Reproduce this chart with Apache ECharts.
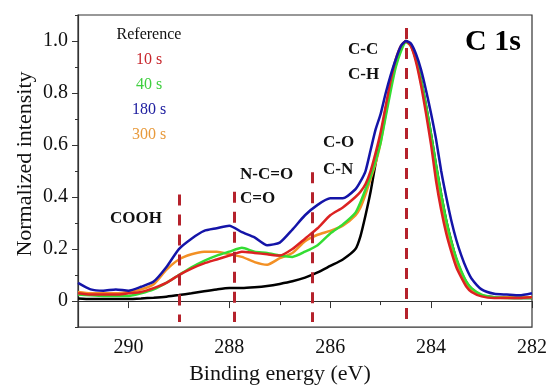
<!DOCTYPE html>
<html>
<head>
<meta charset="utf-8">
<script src="https://cdn.jsdelivr.net/npm/echarts@6/dist/echarts.min.js"></script>
<style>
  html, body { margin: 0; padding: 0; background: #fff; }
  #chart { width: 550px; height: 390px; }
</style>
</head>
<body>
<div id="chart"></div>
<script>
// binding energy grid (eV)
const energy = [291.0, 290.75, 290.5, 290.25, 290.0, 289.75, 289.5, 289.25, 289.0, 288.75,
  288.5, 288.25, 288.0, 287.75, 287.5, 287.25, 287.0, 286.75, 286.5, 286.25,
  286.0, 285.75, 285.5, 285.4, 285.3, 285.2, 285.1, 285.0, 284.9, 284.8,
  284.7, 284.6, 284.5, 284.4, 284.3, 284.2, 284.1, 284.0, 283.9, 283.8,
  283.7, 283.6, 283.5, 283.4, 283.3, 283.2, 283.0, 282.75, 282.5, 282.25, 282.0]

const reference = [0.01, 0.008, 0.008, 0.008, 0.008, 0.01, 0.013, 0.017, 0.023, 0.03,
  0.038, 0.045, 0.05, 0.05, 0.053, 0.058, 0.066, 0.076, 0.09, 0.11,
  0.135, 0.16, 0.2, 0.25, 0.33, 0.42, 0.53, 0.63, 0.74, 0.83,
  0.91, 0.97, 1.0, 0.985, 0.93, 0.85, 0.75, 0.64, 0.52, 0.41,
  0.31, 0.23, 0.16, 0.11, 0.072, 0.048, 0.022, 0.015, 0.013, 0.012, 0.012]

const s10 = [0.03, 0.025, 0.025, 0.025, 0.03, 0.035, 0.05, 0.07, 0.1, 0.125,
  0.145, 0.16, 0.175, 0.19, 0.185, 0.18, 0.175, 0.2, 0.24, 0.28,
  0.33, 0.36, 0.4, 0.42, 0.45, 0.5, 0.57, 0.65, 0.75, 0.85,
  0.93, 0.98, 1.0, 0.98, 0.92, 0.83, 0.72, 0.6, 0.46, 0.35,
  0.26, 0.19, 0.13, 0.09, 0.055, 0.035, 0.018, 0.012, 0.012, 0.012, 0.015]

const s40 = [0.025, 0.022, 0.02, 0.02, 0.02, 0.03, 0.045, 0.07, 0.1, 0.13,
  0.155, 0.175, 0.19, 0.205, 0.19, 0.185, 0.175, 0.17, 0.19, 0.215,
  0.26, 0.295, 0.34, 0.38, 0.43, 0.48, 0.54, 0.61, 0.71, 0.81,
  0.9, 0.96, 0.995, 0.985, 0.93, 0.85, 0.75, 0.64, 0.52, 0.41,
  0.31, 0.23, 0.165, 0.115, 0.075, 0.05, 0.025, 0.015, 0.012, 0.012, 0.012]

const s180 = [0.07, 0.045, 0.04, 0.045, 0.04, 0.055, 0.075, 0.13, 0.2, 0.24,
  0.27, 0.28, 0.29, 0.265, 0.245, 0.215, 0.225, 0.275, 0.33, 0.37,
  0.395, 0.395, 0.43, 0.46, 0.5, 0.58, 0.66, 0.72, 0.8, 0.87,
  0.93, 0.98, 1.0, 0.99, 0.95, 0.89, 0.81, 0.72, 0.62, 0.5,
  0.4, 0.31, 0.235, 0.175, 0.125, 0.087, 0.045, 0.028, 0.025, 0.022, 0.03]

const s300 = [0.035, 0.03, 0.03, 0.03, 0.035, 0.045, 0.065, 0.12, 0.16, 0.18,
  0.19, 0.19, 0.18, 0.17, 0.15, 0.14, 0.165, 0.185, 0.23, 0.255,
  0.27, 0.29, 0.33, 0.36, 0.41, 0.47, 0.53, 0.61, 0.72, 0.83,
  0.92, 0.975, 1.0, 0.98, 0.93, 0.84, 0.74, 0.62, 0.5, 0.39,
  0.29, 0.21, 0.15, 0.1, 0.065, 0.042, 0.022, 0.015, 0.015, 0.015, 0.015]

// peak assignment lines: energy, top of the dashed line
const peakEnergy = [289.0, 287.9, 286.35, 284.5]
const peakTop = [0.41, 0.42, 0.495, 1.05]

const names = ['Reference', '10 s', '40 s', '180 s', '300 s']
const colors = ['#000000', '#dc2222', '#33dd33', '#1414a8', '#f39024']
const labelColors = ['#111111', '#c8262c', '#3fcf3f', '#2020a0', '#e89a3c']

const serif = '"Liberation Serif", "Times New Roman", serif'

const chart = echarts.init(document.getElementById('chart'))

function line(name, values, color) {
  return {
    name: name,
    type: 'line',
    data: energy.map((e, i) => [e, values[i]]),
    showSymbol: false,
    smooth: 0.2,
    lineStyle: { color: color, width: 2.5 },
    itemStyle: { color: color },
    animation: false
  }
}

chart.setOption({
  grid: {
    left: 78, right: 18, top: 15, bottom: 57,
    show: true, borderColor: '#333', borderWidth: 1.2
  },
  legend: {
    orient: 'vertical',
    left: 99,
    top: 22,
    icon: 'none',
    itemWidth: 0,
    itemHeight: 10,
    itemGap: 9,
    selectedMode: false,
    formatter: '{c|{name}}',
    textStyle: {
      fontFamily: serif,
      fontSize: 16,
      rich: { c: { width: 80, align: 'center', fontFamily: serif, fontSize: 16 } }
    },
    data: names.map((n, i) => ({ name: n, textStyle: { color: labelColors[i] } }))
  },
  xAxis: {
    type: 'value',
    inverse: true,
    min: 282,
    max: 291,
    interval: 2,
    name: 'Binding energy (eV)',
    nameLocation: 'middle',
    nameGap: 34,
    nameTextStyle: { fontFamily: serif, fontSize: 22, color: '#111', padding: [0, 50, 0, 0] },
    axisLine: { lineStyle: { color: '#333', width: 1.2 } },
    axisTick: { length: 7, lineStyle: { color: '#333' } },
    minorTick: { show: true, splitNumber: 2, length: 4, lineStyle: { color: '#333' } },
    axisLabel: { fontFamily: serif, fontSize: 20, color: '#111', margin: 11, showMaxLabel: false },
    splitLine: { show: false }
  },
  yAxis: [{
    type: 'value',
    min: -0.1,
    max: 1.1,
    name: 'Normalized intensity',
    nameLocation: 'middle',
    nameGap: 42,
    nameMoveOverlap: false,
    nameTextStyle: { fontFamily: serif, fontSize: 22, color: '#111', padding: [0, 0, 0, 14] },
    axisLine: { show: true, lineStyle: { color: '#333', width: 1.2 } },
    axisTick: { show: true, length: 6, customValues: [0, 0.2, 0.4, 0.6, 0.8, 1.0], lineStyle: { color: '#333' } },
    axisLabel: {
      fontFamily: serif, fontSize: 20, color: '#111', margin: 10,
      customValues: [0, 0.2, 0.4, 0.6, 0.8, 1.0],
      formatter: v => (Math.abs(v) < 1e-9 ? '0' : v.toFixed(1))
    },
    splitLine: { show: false }
  }, {
    // minor ticks every 0.1
    type: 'value',
    position: 'left',
    min: -0.1,
    max: 1.1,
    interval: 0.1,
    axisLine: { show: false },
    axisTick: { show: true, length: 3, lineStyle: { color: '#333' } },
    axisLabel: { show: false },
    splitLine: { show: false }
  }],
  series: [
    line(names[0], reference, colors[0]),
    line(names[4], s300, colors[4]),
    line(names[2], s40, colors[2]),
    line(names[1], s10, colors[1]),
    line(names[3], s180, colors[3]),
    {
      name: 'peaks',
      type: 'line',
      data: [],
      z: 5,
      animation: false,
      markLine: {
        silent: true,
        symbol: ['none', 'none'],
        label: { show: false },
        animation: false,
        lineStyle: { color: '#b5222c', width: 3, type: [11, 9] },
        data: peakEnergy.map((e, i) => [{ coord: [e, peakTop[i]] }, { coord: [e, -0.08] }])
      }
    }
  ],
  graphic: [
    { type: 'text', x: 493, y: 42, style: { text: 'C 1s', font: 'bold 30px ' + serif, fill: '#000', textAlign: 'center', textVerticalAlign: 'middle' } },
    { type: 'text', x: 348, y: 50, style: { text: 'C-C', font: 'bold 17px ' + serif, fill: '#111', textAlign: 'left', textVerticalAlign: 'middle' } },
    { type: 'text', x: 348, y: 75, style: { text: 'C-H', font: 'bold 17px ' + serif, fill: '#111', textAlign: 'left', textVerticalAlign: 'middle' } },
    { type: 'text', x: 323, y: 143, style: { text: 'C-O', font: 'bold 17px ' + serif, fill: '#111', textAlign: 'left', textVerticalAlign: 'middle' } },
    { type: 'text', x: 323, y: 170, style: { text: 'C-N', font: 'bold 17px ' + serif, fill: '#111', textAlign: 'left', textVerticalAlign: 'middle' } },
    { type: 'text', x: 240, y: 175, style: { text: 'N-C=O', font: 'bold 17px ' + serif, fill: '#111', textAlign: 'left', textVerticalAlign: 'middle' } },
    { type: 'text', x: 240, y: 199, style: { text: 'C=O', font: 'bold 17px ' + serif, fill: '#111', textAlign: 'left', textVerticalAlign: 'middle' } },
    { type: 'text', x: 110, y: 219, style: { text: 'COOH', font: 'bold 17px ' + serif, fill: '#111', textAlign: 'left', textVerticalAlign: 'middle' } }
  ]
})
</script>
</body>
</html>
